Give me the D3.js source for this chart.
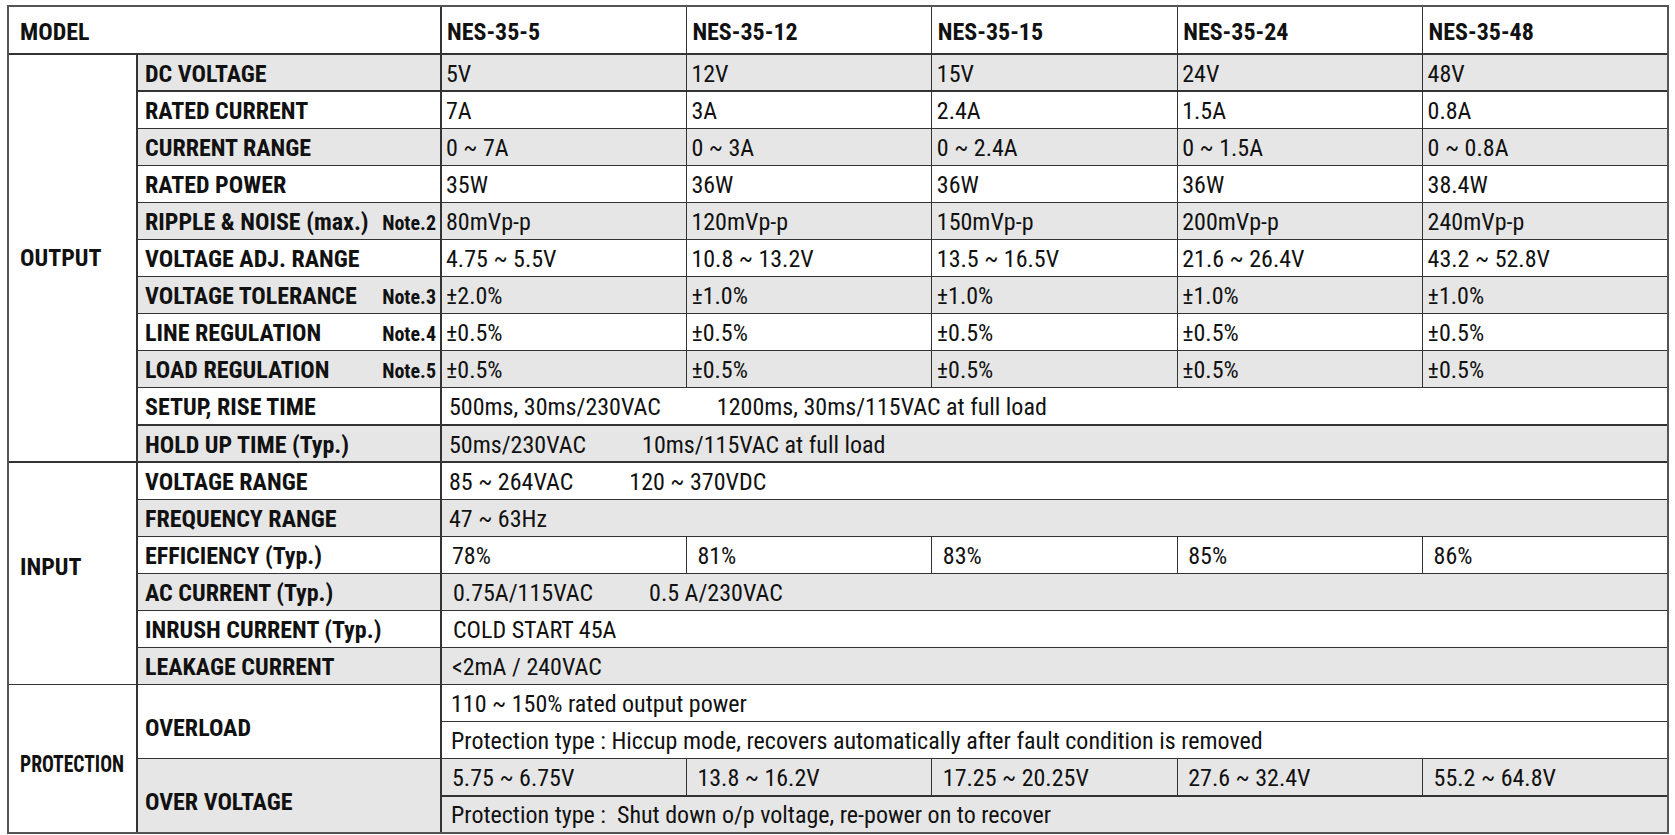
<!DOCTYPE html>
<html>
<head>
<meta charset="utf-8">
<script src="https://cdn.jsdelivr.net/npm/d3@7"></script>
<style>
  body { margin: 0; background: #fff; }
  text { font-family: 'Liberation Sans Narrow', 'Arial Narrow', 'Roboto Condensed', 'DejaVu Sans Condensed', sans-serif; fill: #111; white-space: pre; }
</style>
</head>
<body>
<script>
// spec sheet values
const models = ['NES-35-5', 'NES-35-12', 'NES-35-15', 'NES-35-24', 'NES-35-48'];
const groupNames = ['OUTPUT', 'INPUT', 'PROTECTION'];

const dcVoltage = ['5V', '12V', '15V', '24V', '48V'];
const ratedCurrent = ['7A', '3A', '2.4A', '1.5A', '0.8A'];
const currentRange = ['0 ~ 7A', '0 ~ 3A', '0 ~ 2.4A', '0 ~ 1.5A', '0 ~ 0.8A'];
const ratedPower = ['35W', '36W', '36W', '36W', '38.4W'];
const rippleNoise = ['80mVp-p', '120mVp-p', '150mVp-p', '200mVp-p', '240mVp-p'];
const voltageAdj = ['4.75 ~ 5.5V', '10.8 ~ 13.2V', '13.5 ~ 16.5V', '21.6 ~ 26.4V', '43.2 ~ 52.8V'];
const voltageTol = ['±2.0%', '±1.0%', '±1.0%', '±1.0%', '±1.0%'];
const lineReg = ['±0.5%', '±0.5%', '±0.5%', '±0.5%', '±0.5%'];
const loadReg = ['±0.5%', '±0.5%', '±0.5%', '±0.5%', '±0.5%'];
const setupRise = ['500ms, 30ms/230VAC', '1200ms, 30ms/115VAC at full load'];
const holdUp = ['50ms/230VAC', '10ms/115VAC at full load'];

const inputVoltage = ['85 ~ 264VAC', '120 ~ 370VDC'];
const frequency = ['47 ~ 63Hz'];
const efficiency = ['78%', '81%', '83%', '85%', '86%'];
const acCurrent = ['0.75A/115VAC', '0.5 A/230VAC'];
const inrush = ['COLD START 45A'];
const leakage = ['<2mA / 240VAC'];

const overload = ['110 ~ 150% rated output power'];
const overloadType = ['Protection type : Hiccup mode, recovers automatically after fault condition is removed'];
const overVoltage = ['5.75 ~ 6.75V', '13.8 ~ 16.2V', '17.25 ~ 20.25V', '27.6 ~ 32.4V', '55.2 ~ 64.8V'];
const overVoltageType = ['Protection type :  Shut down o/p voltage, re-power on to recover'];

// table built from the arrays above
const rows = [
    {group: 0, label: 'DC VOLTAGE', lines: [{cols: dcVoltage, pad: 5}]},
    {group: 0, label: 'RATED CURRENT', lines: [{cols: ratedCurrent, pad: 5}]},
    {group: 0, label: 'CURRENT RANGE', lines: [{cols: currentRange, pad: 5}]},
    {group: 0, label: 'RATED POWER', lines: [{cols: ratedPower, pad: 5}]},
    {group: 0, label: 'RIPPLE & NOISE (max.)', note: 'Note.2', lines: [{cols: rippleNoise, pad: 5}]},
    {group: 0, label: 'VOLTAGE ADJ. RANGE', lines: [{cols: voltageAdj, pad: 5}]},
    {group: 0, label: 'VOLTAGE TOLERANCE', note: 'Note.3', lines: [{cols: voltageTol, pad: 5}]},
    {group: 0, label: 'LINE REGULATION', note: 'Note.4', lines: [{cols: lineReg, pad: 5}]},
    {group: 0, label: 'LOAD REGULATION', note: 'Note.5', lines: [{cols: loadReg, pad: 5}]},
    {group: 0, label: 'SETUP, RISE TIME', lines: [{span: setupRise, pad: 8}]},
    {group: 0, label: 'HOLD UP TIME (Typ.)', lines: [{span: holdUp, pad: 8}]},
    {group: 1, label: 'VOLTAGE RANGE', lines: [{span: inputVoltage, pad: 8}]},
    {group: 1, label: 'FREQUENCY RANGE', lines: [{span: frequency, pad: 8}]},
    {group: 1, label: 'EFFICIENCY (Typ.)', lines: [{cols: efficiency, pad: 11}]},
    {group: 1, label: 'AC CURRENT (Typ.)', lines: [{span: acCurrent, pad: 12}]},
    {group: 1, label: 'INRUSH CURRENT (Typ.)', lines: [{span: inrush, pad: 12}]},
    {group: 1, label: 'LEAKAGE CURRENT', lines: [{span: leakage, pad: 11}]},
    {group: 2, label: 'OVERLOAD', lines: [{span: overload, pad: 10}, {span: overloadType, pad: 10}]},
    {group: 2, label: 'OVER VOLTAGE', lines: [{cols: overVoltage, pad: 11}, {span: overVoltageType, pad: 10}]}
];

const W = 1675, H = 835;
const xLeft = 8, xLabel = 137, xValues = 441, xRight = 1668;
const yTop = 6, yHead = 54, yBottom = 833;
const gray = '#e6e6e6', lineColor = '#333';
const partGap = 56;
const groupShift = [0, -6, 5];

let unit = 0;
rows.forEach((r, i) => { r.start = unit; r.shaded = i % 2 === 0; unit += r.lines.length; });
const totalUnits = unit;

const svg = d3.select('body')
    .append('svg')
    .attr('width', W)
    .attr('height', H);

const colX = d3.scaleBand()
    .domain(models)
    .range([xValues, xRight]);

const rowY = d3.scaleLinear()
    .domain([0, totalUnits])
    .range([yHead, yBottom]);

const lineY = (k) => (rowY(k) + rowY(k + 1)) / 2 + 9;

// shading
svg.append('g').selectAll('rect')
    .data(rows.filter(r => r.shaded))
    .enter()
    .append('rect')
    .attr('x', xLabel)
    .attr('y', d => rowY(d.start))
    .attr('width', xRight - xLabel)
    .attr('height', d => rowY(d.start + d.lines.length) - rowY(d.start))
    .attr('fill', gray);

const grid = svg.append('g')
    .attr('stroke', lineColor)
    .attr('stroke-width', 1.2)
    .attr('shape-rendering', 'crispEdges');

// horizontal rules
rows.forEach((r, i) => {
    const first = i === 0 || rows[i - 1].group !== r.group;
    grid.append('line')
        .attr('x1', first ? xLeft : xLabel).attr('x2', xRight)
        .attr('y1', rowY(r.start)).attr('y2', rowY(r.start));
    r.lines.forEach((l, j) => {
        if (j === 0) return;
        grid.append('line')
            .attr('x1', xValues).attr('x2', xRight)
            .attr('y1', rowY(r.start + j)).attr('y2', rowY(r.start + j));
    });
});

// vertical rules
grid.append('line').attr('x1', xLabel).attr('x2', xLabel).attr('y1', yHead).attr('y2', yBottom);
grid.append('line').attr('x1', xValues).attr('x2', xValues).attr('y1', yTop).attr('y2', yBottom);
models.slice(1).forEach(m => {
    grid.append('line').attr('x1', colX(m)).attr('x2', colX(m)).attr('y1', yTop).attr('y2', yHead);
});
rows.forEach(r => r.lines.forEach((l, j) => {
    if (!l.cols) return;
    models.slice(1).forEach(m => {
        grid.append('line')
            .attr('x1', colX(m)).attr('x2', colX(m))
            .attr('y1', rowY(r.start + j)).attr('y2', rowY(r.start + j + 1));
    });
}));

// outer frame
svg.append('rect')
    .attr('x', xLeft).attr('y', yTop)
    .attr('width', xRight - xLeft).attr('height', yBottom - yTop)
    .attr('fill', 'none')
    .attr('stroke', '#555')
    .attr('stroke-width', 2);

const txt = svg.append('g');

// header
txt.append('text')
    .attr('x', 20).attr('y', (yTop + yHead) / 2 + 10)
    .attr('font-size', 24).attr('font-weight', 'bold')
    .text('MODEL');
txt.selectAll('.model')
    .data(models)
    .enter()
    .append('text')
    .attr('class', 'model')
    .attr('x', d => colX(d) + 6)
    .attr('y', (yTop + yHead) / 2 + 10)
    .attr('font-size', 24).attr('font-weight', 'bold')
    .text(d => d);

// group labels
groupNames.forEach((g, gi) => {
    const rs = rows.filter(r => r.group === gi);
    const a = rowY(rs[0].start);
    const last = rs[rs.length - 1];
    const b = rowY(last.start + last.lines.length);
    const t = txt.append('text')
        .attr('x', 20).attr('y', (a + b) / 2 + 8 + groupShift[gi])
        .attr('font-size', 24).attr('font-weight', 'bold')
        .text(g);
    if (g === 'PROTECTION') t.attr('textLength', 104).attr('lengthAdjust', 'spacingAndGlyphs');
});

// row labels and notes
rows.forEach(r => {
    const yc = (rowY(r.start) + rowY(r.start + r.lines.length)) / 2 + 9 + (r.lines.length > 1 ? 5 : 0);
    txt.append('text')
        .attr('x', xLabel + 8).attr('y', yc)
        .attr('font-size', 24).attr('font-weight', 'bold')
        .text(r.label);
    if (r.note) {
        txt.append('text')
            .attr('x', xValues - 5).attr('y', yc)
            .attr('text-anchor', 'end')
            .attr('font-size', 20).attr('font-weight', 'bold')
            .text(r.note);
    }
});

// values
rows.forEach(r => r.lines.forEach((l, j) => {
    const y = lineY(r.start + j);
    if (l.cols) {
        l.cols.forEach((v, ci) => {
            txt.append('text')
                .attr('x', colX(models[ci]) + l.pad).attr('y', y)
                .attr('font-size', 24)
                .text(v);
        });
    } else {
        let x = xValues + l.pad;
        l.span.forEach(v => {
            const t = txt.append('text')
                .attr('x', x).attr('y', y)
                .attr('font-size', 24)
                .text(v);
            x += t.node().getComputedTextLength() + partGap;
        });
    }
}));
</script>
</body>
</html>
